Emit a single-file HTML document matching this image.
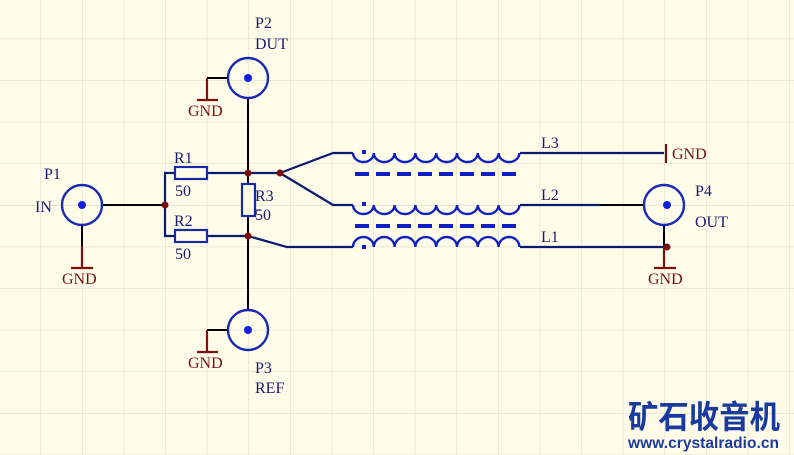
<!DOCTYPE html>
<html><head><meta charset="utf-8"><style>
html,body{margin:0;padding:0;background:#fffdea;}
svg{display:block}
text{font-family:"Liberation Serif",serif;font-size:16px}
</style></head><body>
<svg width="794" height="455" viewBox="0 0 794 455" xmlns="http://www.w3.org/2000/svg">
<defs>
<pattern id="g" x="-1.2" y="-3" width="41.6" height="41.6" patternUnits="userSpaceOnUse">
<path d="M0 0V41.6M0 0H41.6" stroke="#dcdccb" stroke-width="1.2" fill="none"/>
</pattern>
</defs>
<rect width="794" height="455" fill="#fffdea"/>
<rect width="794" height="455" fill="url(#g)"/>

<g stroke="#000" stroke-width="2" fill="none">
<path d="M102 205H165"/>
<path d="M82 225V246"/>
<path d="M248 98V310"/>
<path d="M228 78H207"/>
<path d="M228 330H207"/>
<path d="M664 224V247"/>
<path d="M644 205H600"/>
</g>
<g stroke="#0a1a6e" stroke-width="2.2" fill="none">
<path d="M165 205V173H175M207 173H280"/>
<path d="M165 205V236H175M207 236H248"/>
<path d="M248 236L287 247H353"/>
<path d="M280 173L333 153H353"/>
<path d="M280 173L333 205H353"/>
<path d="M520 153H664"/>
<path d="M520 205H600"/>
<path d="M520 247H664"/>
</g>
<g stroke="#1a2aa0" stroke-width="2.2" fill="#fffdea">
<rect x="175" y="167" width="32" height="12"/>
<rect x="175" y="230" width="32" height="12"/>
<rect x="242" y="184" width="13" height="32"/>
</g>
<g stroke="#1020c0" stroke-width="2.4" fill="none">
<path d="M353 153a10.4 9 0 0 0 20.8 0a10.4 9 0 0 0 20.8 0a10.4 9 0 0 0 20.8 0a10.4 9 0 0 0 20.8 0a10.4 9 0 0 0 20.8 0a10.4 9 0 0 0 20.8 0a10.4 9 0 0 0 20.8 0a10.4 9 0 0 0 20.8 0"/>
<path d="M353 205a10.4 9 0 0 0 20.8 0a10.4 9 0 0 0 20.8 0a10.4 9 0 0 0 20.8 0a10.4 9 0 0 0 20.8 0a10.4 9 0 0 0 20.8 0a10.4 9 0 0 0 20.8 0a10.4 9 0 0 0 20.8 0a10.4 9 0 0 0 20.8 0"/>
<path d="M353 247a10.4 10 0 0 1 20.8 0a10.4 10 0 0 1 20.8 0a10.4 10 0 0 1 20.8 0a10.4 10 0 0 1 20.8 0a10.4 10 0 0 1 20.8 0a10.4 10 0 0 1 20.8 0a10.4 10 0 0 1 20.8 0a10.4 10 0 0 1 20.8 0"/>
</g>
<g stroke="#1020c0" stroke-width="4" stroke-dasharray="14 7">
<path d="M355 174H520"/>
<path d="M355 226H520"/>
</g>
<g fill="#1020c0">
<rect x="362" y="150" width="4" height="4"/>
<rect x="362" y="202" width="4" height="4"/>
<rect x="362" y="245" width="4" height="4"/>
</g>
<g stroke="#1a2ab4" stroke-width="2.4" fill="none">
<circle cx="82" cy="205" r="20"/>
<circle cx="248" cy="78" r="20"/>
<circle cx="248" cy="330" r="20"/>
<circle cx="664" cy="205" r="20"/>
</g>
<g fill="#1020e0">
<circle cx="82" cy="205" r="4"/>
<circle cx="248" cy="78" r="4"/>
<circle cx="248" cy="330" r="4"/>
<circle cx="667" cy="205" r="4"/>
</g>
<g stroke="#7a1010" stroke-width="2.2" fill="none">
<path d="M82 246V268M71 268H93"/>
<path d="M207 78V100M197 100H218"/>
<path d="M207 330V352M197 352H218"/>
<path d="M664 247V268M654 268H676"/>
<path d="M666 144V163"/>
</g>
<g fill="#7a0e0e">
<circle cx="165" cy="205" r="3.5"/>
<circle cx="248" cy="173" r="3.5"/>
<circle cx="248" cy="236" r="3.5"/>
<circle cx="280" cy="173" r="3.5"/>
<circle cx="667" cy="247" r="3.5"/>
</g>
<g fill="#7a1010">
<text x="62" y="284">GND</text>
<text x="188" y="116">GND</text>
<text x="188" y="368">GND</text>
<text x="648" y="284">GND</text>
<text x="672" y="159">GND</text>
</g>
<g fill="#1a1a6e">
<text x="44" y="179">P1</text>
<text x="35" y="212">IN</text>
<text x="255" y="28">P2</text>
<text x="255" y="49">DUT</text>
<text x="255" y="373">P3</text>
<text x="255" y="393">REF</text>
<text x="695" y="196">P4</text>
<text x="695" y="227">OUT</text>
<text x="174" y="163">R1</text>
<text x="175" y="196">50</text>
<text x="174" y="226">R2</text>
<text x="175" y="259">50</text>
<text x="255" y="201">R3</text>
<text x="255" y="220">50</text>
<text x="541" y="148">L3</text>
<text x="541" y="200">L2</text>
<text x="541" y="242">L1</text>
</g>
<text x="628" y="428" style="font-family:'Noto Sans CJK SC','WenQuanYi Zen Hei',sans-serif;font-size:32px;font-weight:bold" fill="#1a3aa0" textLength="152" lengthAdjust="spacingAndGlyphs">矿石收音机</text>
<text x="628" y="448" style="font-family:'Liberation Sans',sans-serif;font-size:15.5px;font-weight:bold" fill="#1a3aa0" textLength="151">www.crystalradio.cn</text>
</svg>
</body></html>
